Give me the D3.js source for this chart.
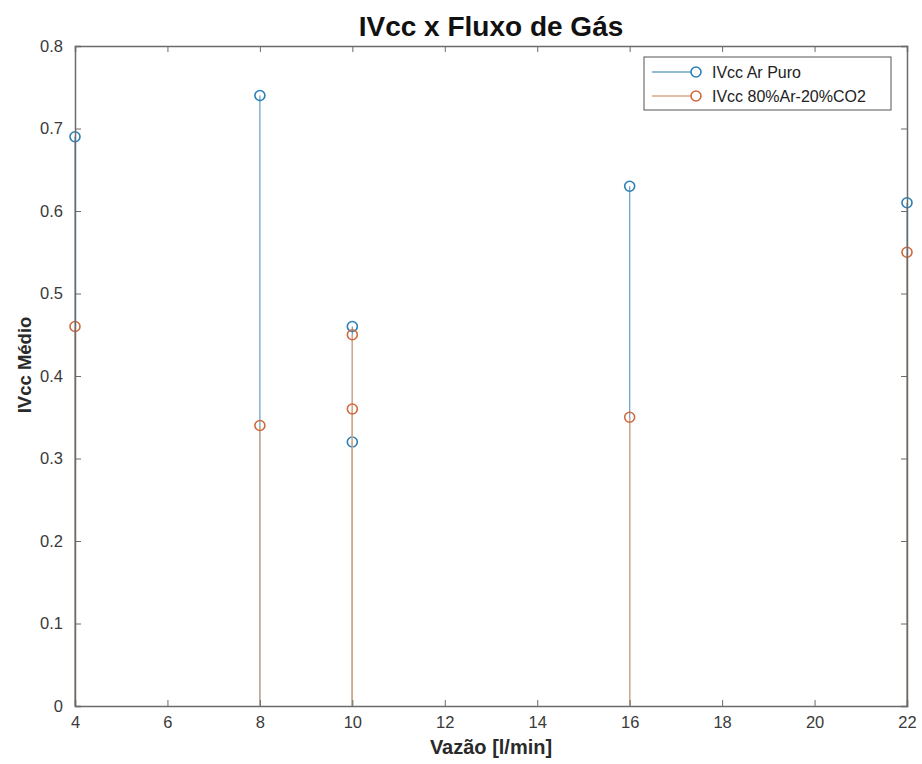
<!DOCTYPE html>
<html>
<head>
<meta charset="utf-8">
<script src="https://cdn.jsdelivr.net/npm/d3@7"></script>
<style>
  body { margin: 0; background: #fff; }
  svg { display: block; font-family: "Liberation Sans", Arial, sans-serif; }
</style>
</head>
<body>
<div id="chart"></div>
<script>
// Data
const flowArPuro = [4, 8, 10, 10, 16, 22];
const ivccArPuro = [0.69, 0.74, 0.46, 0.32, 0.63, 0.61];
const flowMix = [4, 8, 10, 10, 16, 22];
const ivccMix = [0.46, 0.34, 0.45, 0.36, 0.35, 0.55];
const xTicks = [4, 6, 8, 10, 12, 14, 16, 18, 20, 22];
const yTicks = [0, 0.1, 0.2, 0.3, 0.4, 0.5, 0.6, 0.7, 0.8];
const seriesNames = ["IVcc Ar Puro", "IVcc 80%Ar-20%CO2"];

const width = 922, height = 764;
const margin = { top: 46, right: 15, bottom: 58, left: 75 };
const plotW = width - margin.left - margin.right;
const plotH = height - margin.top - margin.bottom;

const svg = d3.select("#chart").append("svg")
    .attr("width", width)
    .attr("height", height);

const x = d3.scaleLinear().domain([4, 22]).range([0, plotW]);
const y = d3.scaleLinear().domain([0, 0.8]).range([plotH, 0]);

const g = svg.append("g")
    .attr("transform", `translate(${margin.left},${margin.top})`);

const series = [
    { name: seriesNames[0], xs: flowArPuro, ys: ivccArPuro, stem: "#6fa5c8", marker: "#2b7fb5" },
    { name: seriesNames[1], xs: flowMix, ys: ivccMix, stem: "#d8a784", marker: "#cf6a3e" }
];

// stems + markers, blue first so orange sits on top
series.forEach(s => {
    const pts = s.xs.map((v, i) => ({ x: v, y: s.ys[i] }));
    g.selectAll(null).data(pts).enter().append("line")
        .attr("x1", d => x(d.x)).attr("x2", d => x(d.x))
        .attr("y1", y(0)).attr("y2", d => y(d.y))
        .style("stroke", s.stem)
        .style("stroke-width", 1.3);
    g.selectAll(null).data(pts).enter().append("circle")
        .attr("cx", d => x(d.x)).attr("cy", d => y(d.y))
        .attr("r", 5)
        .style("fill", "none")
        .style("stroke", s.marker)
        .style("stroke-width", 1.6);
});

// axes, MATLAB style box with inward ticks
const axisColor = "#6b6b6b";
const xAxis = d3.axisBottom(x).tickValues(xTicks).tickSize(-6).tickPadding(10).tickFormat(d3.format("d"));
const yAxis = d3.axisLeft(y).tickValues(yTicks).tickSize(-6).tickPadding(12).tickFormat(d => d === 0 ? "0" : d3.format(".1f")(d));
const xTop = d3.axisTop(x).tickValues(xTicks).tickSize(-6).tickFormat("");
const yRight = d3.axisRight(y).tickValues(yTicks).tickSize(-6).tickFormat("");

const gx = g.append("g").attr("transform", `translate(0,${plotH})`).call(xAxis);
const gy = g.append("g").call(yAxis);
const gt = g.append("g").call(xTop);
const gr = g.append("g").attr("transform", `translate(${plotW},0)`).call(yRight);

[gx, gy, gt, gr].forEach(a => {
    a.select(".domain").style("stroke", axisColor).style("stroke-width", 1.5);
    a.selectAll(".tick line").style("stroke", axisColor).style("stroke-width", 1);
    a.selectAll(".tick text")
        .style("font-size", "16.5px")
        .style("fill", "#3a3a3a");
});

// title and axis labels
svg.append("text")
    .attr("x", margin.left + plotW / 2)
    .attr("y", 36)
    .attr("text-anchor", "middle")
    .style("font-size", "28px")
    .style("font-weight", "bold")
    .style("fill", "#111")
    .text("IVcc x Fluxo de Gás");

svg.append("text")
    .attr("x", margin.left + plotW / 2)
    .attr("y", 754)
    .attr("text-anchor", "middle")
    .style("font-size", "20px")
    .style("font-weight", "bold")
    .style("fill", "#2a2a2a")
    .text("Vazão [l/min]");

svg.append("text")
    .attr("transform", `translate(31,365) rotate(-90)`)
    .attr("text-anchor", "middle")
    .style("font-size", "18.5px")
    .style("font-weight", "bold")
    .style("fill", "#2a2a2a")
    .text("IVcc Médio");

// legend
const leg = svg.append("g").attr("transform", "translate(644,57)");
leg.append("rect")
    .attr("width", 247).attr("height", 53)
    .style("fill", "#fff")
    .style("stroke", "#555")
    .style("stroke-width", 1);

series.forEach((s, i) => {
    const row = leg.append("g").attr("transform", `translate(0,${15 + i * 24})`);
    row.append("line")
        .attr("x1", 8).attr("x2", 52)
        .attr("y1", 0).attr("y2", 0)
        .style("stroke", s.stem)
        .style("stroke-width", 1.3);
    row.append("circle")
        .attr("cx", 52).attr("cy", 0).attr("r", 5)
        .style("fill", "#fff")
        .style("stroke", s.marker)
        .style("stroke-width", 1.6);
    row.append("text")
        .attr("x", 68).attr("y", 0)
        .attr("dominant-baseline", "central")
        .style("font-size", "16px")
        .style("fill", "#222")
        .text(s.name);
});
</script>
</body>
</html>
